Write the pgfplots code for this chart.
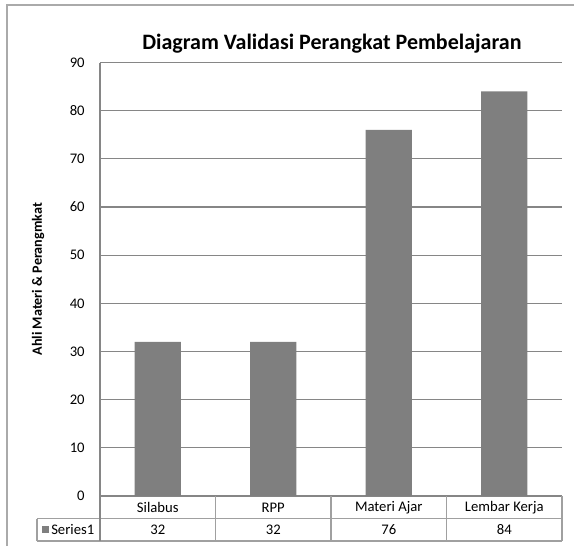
\documentclass[border=0pt]{standalone}
\usepackage{pgfplots}
\pgfplotsset{compat=1.18}
\usepackage{fontspec}
\setmainfont{Carlito}
\definecolor{barc}{RGB}{127,127,127}
\definecolor{gridc}{RGB}{134,134,134}
\definecolor{tabc}{RGB}{160,160,160}
\definecolor{framec}{RGB}{170,170,170}
\begin{document}
\begin{tikzpicture}
\begin{axis}[
  scale only axis,
  width=346.5pt, height=325.125pt,
  xmin=-0.5, xmax=3.5,
  ymin=0, ymax=90,
  ytick={0,10,...,90},
  xtick=\empty,
  axis x line*=bottom,
  axis y line*=left,
  axis line style={gridc, line width=0.8pt},
  ymajorgrids,
  grid style={gridc, line width=0.8pt},
  major tick length=0pt,
  tick label style={font=\fontsize{11}{13}\selectfont},
  yticklabel style={anchor=east, xshift=-8pt},
  /pgf/number format/assume math mode=true,
  title={Diagram Validasi Perangkat Pembelajaran},
  title style={font=\fontsize{16.5}{19}\selectfont\bfseries, at={(rel axis cs:0.502,1.0104)}, anchor=base},
  ylabel={Ahli Materi \& Perangmkat},
  ylabel style={font=\fontsize{10.6}{12}\selectfont\bfseries, at={(rel axis cs:-0.1342,0.5)}, anchor=center},
  clip=false,
]
\addplot[ybar, bar width=0.4, fill=barc, draw=none] coordinates {(0,32) (1,32) (2,76) (3,84)};
\end{axis}
\begin{scope}[shift={(-75pt,372pt)}, x=0.75pt, y=-0.75pt]
  \path[use as bounding box] (0,0) rectangle (574,546);
  \draw[framec, line width=1.5pt] (7,546) -- (7,5) -- (574,5);
  \begin{scope}[tabc, line width=0.8pt]
    \draw (37,518.5) -- (562,518.5);
    \draw (37,541) -- (562,541);
    \draw (37,518.5) -- (37,541);
    \draw[gridc] (100,496) -- (100,541);
    \foreach \xx in {215.5,331,446.5,562} \draw (\xx,496) -- (\xx,541);
  \end{scope}
  \fill[barc] (42.5,525.5) rectangle (49.5,532.5);
  \node[anchor=west, inner sep=0pt, font=\fontsize{11}{13}\selectfont] at (51,529.5) {Series1};
  \foreach \xx/\lab in {157.75/Silabus,273.25/RPP,388.75/Materi Ajar,504.25/Lembar Kerja}
    \node[font=\fontsize{11}{13}\selectfont] at (\xx,507.5) {\lab};
  \foreach \xx/\lab in {157.75/32,273.25/32,388.75/76,504.25/84}
    \node[font=\fontsize{11}{13}\selectfont] at (\xx,530) {\lab};
\end{scope}
\end{tikzpicture}
\end{document}
